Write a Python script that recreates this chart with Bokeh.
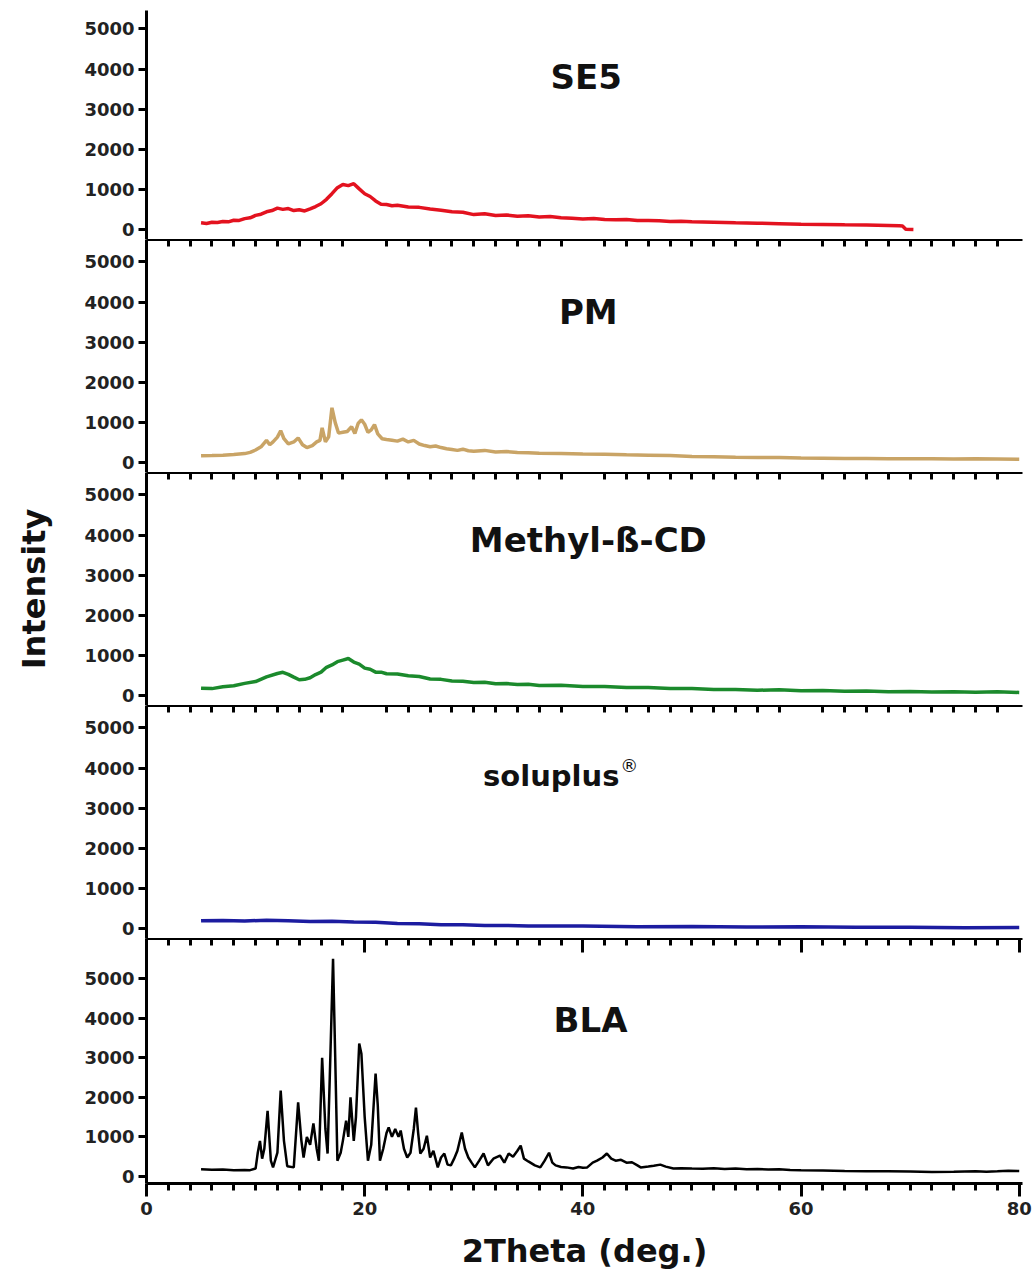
from bokeh.plotting import figure
from bokeh.models import Range1d, LinearAxis, FixedTicker, Label
from bokeh.layouts import column
from bokeh.embed import file_html
from bokeh.resources import INLINE

# ---------------- data ----------------
se5_x = [5.0, 5.5, 6, 6.5, 7, 7.5, 8, 8.5, 9, 9.5, 10, 10.5, 11, 11.5, 12, 12.5, 13, 13.5, 14, 14.5,
         15, 15.5, 16, 16.5, 17, 17.5, 18, 18.5, 19, 19.5, 20, 20.5, 21, 21.5, 22, 22.5, 23, 24, 25, 26,
         27, 28, 29, 30, 31, 32, 33, 34, 35, 36, 37, 38, 39, 40, 41, 42, 43, 44, 45, 46, 47, 48, 49, 50,
         52, 54, 56, 58, 60, 62, 64, 66, 68, 69, 69.3, 69.6, 70.3]
se5_y = [175, 160, 190, 185, 210, 200, 240, 235, 280, 300, 360, 390, 450, 480, 540, 510, 530, 480, 500, 470,
         520, 580, 650, 760, 900, 1050, 1130, 1100, 1150, 1020, 900, 830, 720, 640, 630, 600, 610, 570, 560, 520,
         490, 450, 440, 380, 400, 360, 370, 340, 350, 320, 330, 300, 290, 270, 280, 260, 250, 255, 235, 230, 225, 210, 215, 200,
         190, 175, 165, 155, 140, 135, 125, 120, 110, 100, 95, 15, 10]

pm_x = [5, 6, 7, 8, 9, 9.5, 10, 10.5, 11, 11.3, 11.6, 12, 12.3, 12.6, 13, 13.5, 13.9, 14.3, 14.7, 15.2,
        15.6, 15.9, 16.1, 16.4, 16.7, 17, 17.3, 17.6, 18, 18.4, 18.8, 19.1, 19.4, 19.7, 20, 20.3, 20.6, 20.9,
        21.2, 21.6, 22, 22.5, 23, 23.5, 24, 24.5, 25, 25.5, 26, 26.5, 27, 27.5, 28, 28.5, 29, 29.5, 30, 31,
        32, 33, 34, 35, 36, 38, 40, 42, 44, 46, 48, 50, 52, 54, 56, 58, 60, 62, 64, 66, 68, 70, 72, 74, 76, 78, 80]
pm_y = [175, 180, 190, 205, 230, 260, 320, 400, 560, 450, 520, 640, 800, 600, 470, 520, 620, 450, 380, 430,
        520, 560, 870, 520, 650, 1370, 1000, 740, 760, 780, 900, 730, 980, 1070, 960, 760, 820, 950,
        720, 600, 580, 560, 540, 590, 520, 560, 470, 430, 400, 420, 380, 350, 330, 310, 340, 300, 290, 310,
        270, 280, 260, 250, 240, 230, 220, 215, 200, 190, 180, 160, 150, 140, 135, 130, 120, 115, 110, 110, 105, 100, 100, 95, 100, 95, 90]

mcd_x = [5, 6, 7, 8, 9, 10, 11, 12, 12.5, 13, 13.5, 14, 14.5, 15, 15.5, 16, 16.5, 17, 17.5, 18, 18.5, 19,
         19.5, 20, 20.5, 21, 21.5, 22, 23, 24, 25, 26, 27, 28, 29, 30, 31, 32, 33, 34, 35, 36, 38, 40, 42, 44,
         46, 48, 50, 52, 54, 56, 58, 60, 62, 64, 66, 68, 70, 72, 74, 76, 78, 80]
mcd_y = [190, 180, 225, 250, 310, 355, 470, 555, 585, 535, 465, 400, 410, 450, 530, 590, 710, 770, 850, 890, 930, 840,
         790, 690, 660, 590, 590, 550, 545, 500, 480, 420, 410, 370, 365, 330, 340, 300, 305, 285, 290, 260, 265, 235, 230, 205,
         205, 185, 180, 160, 160, 140, 150, 125, 130, 115, 120, 105, 110, 95, 105, 90, 100, 85]

sol_x = [5, 7, 9, 11, 13, 15, 17, 19, 21, 23, 25, 27, 29, 31, 33, 35, 40, 45, 50, 55, 60, 65, 70, 75, 80]
sol_y = [200, 210, 195, 215, 200, 185, 190, 170, 165, 135, 125, 100, 100, 85, 85, 70, 70, 55, 60, 45, 50, 38, 42, 30, 35]

bla_x = [5, 6, 7, 8, 9, 9.5, 10, 10.2, 10.4, 10.6, 10.8, 11.1, 11.4, 11.6, 12, 12.3, 12.6, 12.9, 13.5, 13.9,
         14.2, 14.4, 14.7, 15.0, 15.3, 15.6, 15.8, 16.1, 16.4, 16.6, 16.8, 17.1, 17.3, 17.5, 17.8, 18.0, 18.3,
         18.5, 18.7, 19.0, 19.2, 19.5, 19.7, 20.0, 20.3, 20.6, 21.0, 21.2, 21.4, 21.7, 22.0, 22.2, 22.5, 22.8,
         23.1, 23.3, 23.6, 23.9, 24.2, 24.5, 24.7, 24.9, 25.1, 25.4, 25.7, 26.0, 26.3, 26.7, 27.0, 27.3, 27.6,
         27.9, 28.2, 28.5, 28.9, 29.2, 29.5, 29.8, 30.1, 30.5, 30.9, 31.3, 31.8, 32.4, 32.8, 33.2, 33.6, 34.0,
         34.3, 34.6, 35.0, 35.6, 36.1, 36.5, 36.9, 37.2, 37.5, 38.0, 38.5, 39.1, 39.6, 40.0, 40.4, 40.9, 41.3,
         41.8, 42.2, 42.6, 43.0, 43.5, 44.0, 44.5, 45.0, 45.3, 46.0, 46.5, 47.1, 47.6, 48.3, 49, 50, 51, 52,
         53, 54, 55, 56, 57, 58, 59, 60, 62, 64, 66, 68, 70, 72, 74, 76, 77, 78, 79, 80]
bla_y = [180, 170, 175, 160, 165, 160, 200, 600, 900, 450, 700, 1660, 400, 230, 600, 2170, 900, 260, 230, 1870,
         900, 480, 1000, 800, 1340, 700, 400, 3000, 1200, 580, 2500, 5500, 3000, 400, 600, 900, 1410,
         1000, 2000, 900, 1500, 3360, 3100, 1500, 400, 800, 2600, 1800, 400, 700, 1100, 1240, 1000, 1200,
         1000, 1160, 700, 480, 600, 1200, 1740, 1100, 580, 700, 1030, 480, 650, 230, 480, 580, 300,
         280, 450, 650, 1110, 700, 480, 350, 230, 400, 580, 280, 450, 530, 350, 580, 500, 650,
         780, 450, 380, 280, 230, 400, 600, 350, 280, 240, 230, 200, 240, 220, 230, 350, 400,
         480, 580, 450, 400, 420, 350, 360, 280, 230, 250, 270, 300, 250, 200, 210, 200, 195, 205,
         190, 200, 185, 190, 175, 180, 165, 155, 150, 140, 135, 130, 125, 115, 120, 135, 120, 130, 145, 140]

panel_names = ["SE5", "PM", "Methyl-ß-CD", "soluplus", "BLA"]
panel_colors = ["#e3121f", "#c9a466", "#1b8a2c", "#1c1ca0", "#000000"]
y_tick_values = [0, 1000, 2000, 3000, 4000, 5000]
x_major_ticks = [0, 20, 40, 60, 80]
x_minor_ticks = [2, 4, 6, 8, 10, 12, 14, 16, 18, 22, 24, 26, 28, 30, 32, 34, 36, 38,
                 42, 44, 46, 48, 50, 52, 54, 56, 58, 62, 64, 66, 68, 70, 72, 74, 76, 78]

series = [(se5_x, se5_y), (pm_x, pm_y), (mcd_x, mcd_y), (sol_x, sol_y), (bla_x, bla_y)]

# ---------------- layout ----------------
FONT = "DejaVu Sans"
frame_heights = [229, 233, 233, 233, 245]
y_tops = [5460, 5555, 5555, 5555, 6010]
y_bottoms = [-240, -240, -240, -240, -177]
label_pos = [(40.3, 3800), (40.5, 3760), (40.5, 3880), (37.1, 3800), (40.7, 3940)]
label_sizes = ["34px", "34px", "34px", "29px", "34px"]

xr = Range1d(0, 80.3)
figs = []
for i in range(5):
    last = (i == 4)
    p = figure(frame_width=876, frame_height=frame_heights[i], x_range=xr,
               y_range=Range1d(y_bottoms[i], y_tops[i]),
               output_backend="svg", toolbar_location=None,
               x_axis_location=None, y_axis_location=None,
               min_border_left=146, min_border_right=11,
               min_border_top=10 if i == 0 else 0, min_border_bottom=0)
    p.outline_line_color = None
    p.background_fill_color = "white"
    p.border_fill_color = "white"
    p.xgrid.grid_line_color = None
    p.ygrid.grid_line_color = None

    ya = LinearAxis(ticker=FixedTicker(ticks=y_tick_values))
    ya.axis_line_width = 3
    ya.major_tick_line_width = 3
    ya.major_tick_out = 8
    ya.major_tick_in = 0
    ya.minor_tick_line_color = None
    ya.major_label_text_font = FONT
    ya.major_label_text_font_style = "bold"
    ya.major_label_text_font_size = "18px"
    ya.major_label_text_color = "#222222"
    ya.major_label_standoff = 4
    if i == 2:
        ya.axis_label = "Intensity"
        ya.axis_label_text_font = FONT
        ya.axis_label_text_font_style = "bold"
        ya.axis_label_text_font_size = "32px"
        ya.axis_label_text_color = "#111111"
        ya.axis_label_standoff = 28
    p.add_layout(ya, "left")

    if i > 0:
        if last:
            top_ticker = FixedTicker(ticks=x_major_ticks, minor_ticks=x_minor_ticks)
        else:
            top_ticker = FixedTicker(ticks=[], minor_ticks=x_minor_ticks)
        ta = LinearAxis(ticker=top_ticker)
        ta.axis_line_width = 3
        ta.major_tick_line_width = 3
        ta.minor_tick_line_width = 3
        ta.major_tick_out = 0
        ta.minor_tick_out = 0
        ta.minor_tick_in = 7
        ta.major_tick_in = 14
        ta.major_label_overrides = {t: "" for t in x_major_ticks}
        ta.major_label_text_color = None
        ta.major_label_text_font_size = "1px"
        ta.major_label_standoff = 0
        p.add_layout(ta, "above")

    if last:
        ba = LinearAxis(ticker=FixedTicker(ticks=x_major_ticks, minor_ticks=x_minor_ticks))
        ba.axis_line_width = 3
        ba.major_tick_line_width = 3
        ba.minor_tick_line_width = 3
        ba.major_tick_out = 13
        ba.major_tick_in = 0
        ba.minor_tick_out = 7
        ba.minor_tick_in = 0
        ba.major_label_text_font = FONT
        ba.major_label_text_font_style = "bold"
        ba.major_label_text_font_size = "18px"
        ba.major_label_text_color = "#222222"
        ba.major_label_standoff = 5
        ba.axis_label = "2Theta (deg.)"
        ba.axis_label_text_font = FONT
        ba.axis_label_text_font_style = "bold"
        ba.axis_label_text_font_size = "32px"
        ba.axis_label_text_color = "#111111"
        ba.axis_label_standoff = 14
        p.add_layout(ba, "below")

    xs, ys = series[i]
    p.line(xs, ys, line_color=panel_colors[i], line_width=3.5 if i < 4 else 2.5)

    lx, ly = label_pos[i]
    p.add_layout(Label(x=lx, y=ly, text=panel_names[i], text_align="center", text_baseline="middle",
                       text_font=FONT, text_font_style="bold", text_font_size=label_sizes[i],
                       text_color="#111111"))
    if panel_names[i] == "soluplus":
        p.add_layout(Label(x=lx, y=ly, text="®", x_offset=69, y_offset=11,
                           text_align="left", text_baseline="middle",
                           text_font=FONT, text_font_size="18px", text_color="#111111"))
    figs.append(p)

layout = column(*figs, spacing=0)
open("out.html", "w").write(file_html(layout, INLINE))
